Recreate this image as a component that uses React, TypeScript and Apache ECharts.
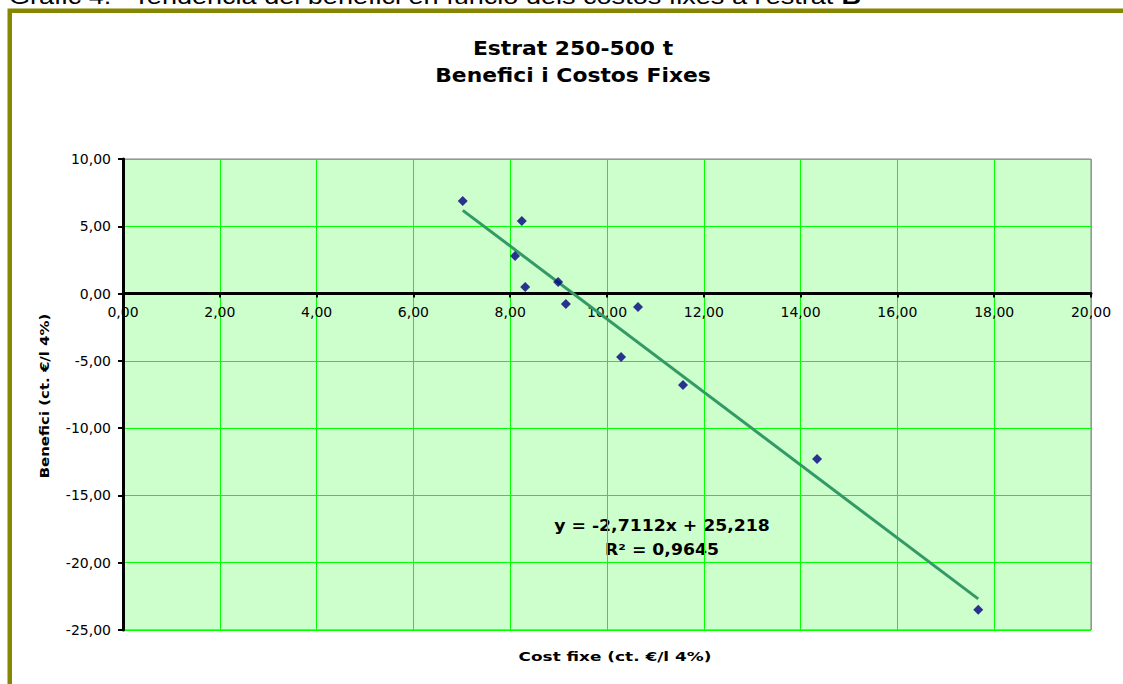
import React, { useEffect, useRef } from "react";
import * as echarts from "echarts";

const costFixe = [7.02, 8.24, 8.1, 8.31, 8.99, 9.15, 10.64, 10.29, 11.57, 14.34, 17.67];
const benefici = [6.88, 5.39, 2.79, 0.49, 0.86, -0.77, -1.0, -4.71, -6.79, -12.29, -23.5];
const trendSlope = -2.7112;
const trendIntercept = 25.218;
const rSquared = "0,9645";
const xTicks = { min: 0, max: 20, interval: 2 };
const yTicks = { min: -25, max: 10, interval: 5 };

const fmt = (v: number) => v.toFixed(2).replace(".", ",");
const dec = (v: number) => String(v).replace(".", ",");

export default function App() {
  const ref = useRef<HTMLDivElement>(null);
  useEffect(() => {
    if (!ref.current) return;
    const chart = echarts.init(ref.current, undefined, { renderer: "svg" });
    const points = costFixe.map((x, i) => [x, benefici[i]]);
    const xMin = Math.min(...costFixe);
    const xMax = Math.max(...costFixe);
    const trend = [xMin, xMax].map((x) => [x, trendSlope * x + trendIntercept]);
    const font = "Verdana, 'DejaVu Sans', sans-serif";
    const gridTop = 159;
    const gridHeight = 471;
    const zeroOffset = (gridHeight * (0 - yTicks.min)) / (yTicks.max - yTicks.min);
    chart.setOption({
      animation: false,
      backgroundColor: "#ffffff",
      grid: {
        left: 123,
        top: gridTop,
        width: 968,
        height: gridHeight,
        show: true,
        backgroundColor: "#ccffcc",
        borderColor: "#808080",
        borderWidth: 1,
      },
      xAxis: {
        type: "value",
        position: "bottom",
        offset: -zeroOffset,
        min: xTicks.min,
        max: xTicks.max,
        interval: xTicks.interval,
        axisLine: { show: true, onZero: false, lineStyle: { color: "#000", width: 3 } },
        axisTick: { show: true, length: 4, lineStyle: { color: "#000", width: 2 } },
        axisLabel: { formatter: (v: number) => fmt(v), fontFamily: font, fontSize: 14, color: "#000", margin: 11 },
        splitLine: { show: true, lineStyle: { color: "#00ff00", width: 1 } },
      },
      yAxis: {
        type: "value",
        min: yTicks.min,
        max: yTicks.max,
        interval: yTicks.interval,
        axisLine: { show: true, onZero: false, lineStyle: { color: "#000", width: 3 } },
        axisTick: { show: true, length: 5, lineStyle: { color: "#000", width: 2 } },
        axisLabel: { formatter: (v: number) => fmt(v), fontFamily: font, fontSize: 14, color: "#000", margin: 12 },
        splitLine: { show: true, lineStyle: { color: "#00ff00", width: 1 } },
      },
      series: [
        {
          type: "line",
          data: trend,
          showSymbol: false,
          symbol: "none",
          lineStyle: { color: "#339966", width: 3 },
          z: 2,
        },
        {
          type: "scatter",
          data: points,
          symbol: "diamond",
          symbolSize: 10,
          itemStyle: { color: "#000080" },
          z: 3,
        },
      ],
      graphic: [
        {
          type: "rect",
          shape: { x: 9.75, y: 10.75, width: 1130, height: 690 },
          style: { fill: "none", stroke: "#868600", lineWidth: 4.5 },
          z: 0,
        },
        {
          type: "text",
          x: 9,
          y: 7,
          scaleX: 1.23,
          style: {
            text: "Gràfic 4.   Tendència del benefici en funció dels costos fixes a l'estrat {b|B}",
            font: "22px 'Liberation Sans', Arial, sans-serif",
            fill: "#000",
            verticalAlign: "bottom",
            rich: { b: { fontWeight: "bold", fontSize: 22, fontFamily: "'Liberation Sans', Arial, sans-serif" } },
          },
        },
        {
          type: "text",
          x: 573,
          y: 35,
          scaleX: 1.15,
          style: {
            text: "Estrat 250-500 t\nBenefici i Costos Fixes",
            font: `bold 19px ${font}`,
            fill: "#000",
            align: "center",
            lineHeight: 27,
          },
        },
        {
          type: "text",
          x: 615,
          y: 657,
          scaleX: 1.3,
          style: {
            text: "Cost fixe (ct. €/l 4%)",
            font: `bold 13px ${font}`,
            fill: "#000",
            align: "center",
            verticalAlign: "middle",
          },
        },
        {
          type: "text",
          x: 44,
          y: 396,
          rotation: Math.PI / 2,
          scaleX: 1.15,
          style: {
            text: "Benefici (ct. €/l 4%)",
            font: `bold 13px ${font}`,
            fill: "#000",
            align: "center",
            verticalAlign: "middle",
          },
        },
        {
          type: "text",
          x: 662,
          y: 538,
          scaleX: 1.15,
          style: {
            text: `y = ${dec(trendSlope)}x + ${dec(trendIntercept)}\nR² = ${rSquared}`,
            font: `bold 15px ${font}`,
            fill: "#000",
            align: "center",
            verticalAlign: "middle",
            lineHeight: 24,
          },
        },
      ],
    });
    return () => chart.dispose();
  }, []);
  return (
    <div
      ref={ref}
      style={{ position: "absolute", left: 0, top: 0, width: 1123, height: 684 }}
    />
  );
}
